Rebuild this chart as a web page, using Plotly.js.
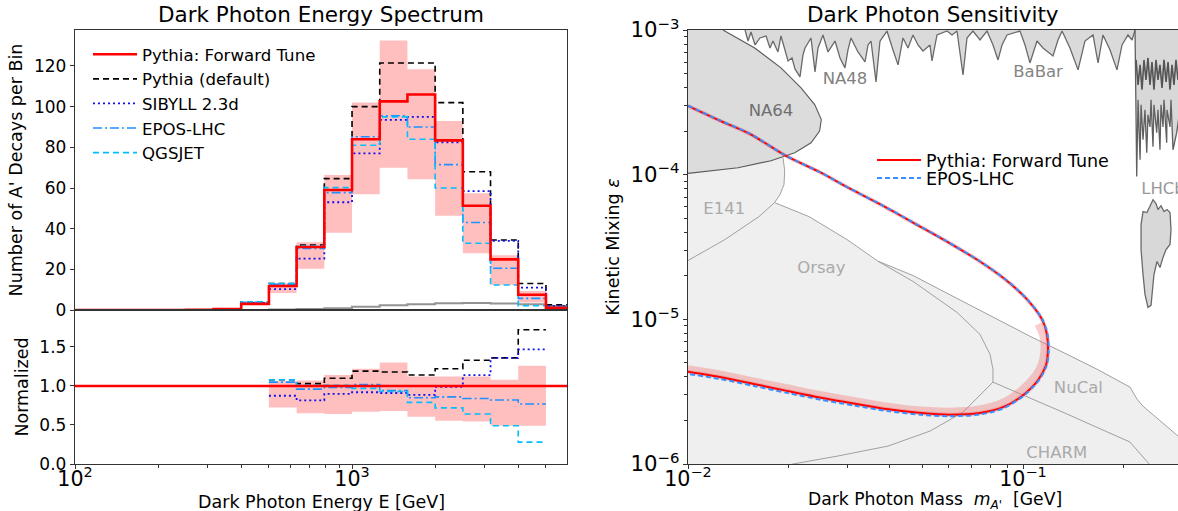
<!DOCTYPE html>
<html><head><meta charset="utf-8">
<script src="https://cdn.plot.ly/plotly-3.0.1.min.js"></script>
<style>html,body{margin:0;padding:0;background:#fff}#chart{width:1178px;height:511px}</style>
</head><body><div id="chart"></div>
<script>
// ---------- Left panel: energy spectrum (log-spaced bins, 10 per decade) ----------
const binEdges = [100, 125.9, 158.5, 199.5, 251.2, 316.2, 398.1, 501.2, 631.0, 794.3, 1000, 1258.9, 1584.9, 1995.3, 2511.9, 3162.3, 3981.1, 5011.9, 6309.6];
const forwardTune = [0, 0, 0, 0, 0.1, 0.5, 3, 11.8, 31, 59, 84, 102.6, 106, 83.4, 51.3, 24.9, 7.5, 1.1];
const pythiaDefault = [0, 0, 0, 0, 0.1, 0.6, 4, 13, 32, 64.6, 100, 121.5, 121.5, 102, 68, 34.4, 13, 2.6];
const sibyll = [0, 0, 0, 0, 0.1, 0.5, 3.5, 10.3, 25.3, 53, 77, 93.5, 95, 82.5, 58.5, 34, 11, 2];
const eposLHC = [0, 0, 0, 0, 0.1, 0.6, 3.8, 12.6, 30.3, 57.7, 85.2, 95.5, 90, 71.5, 43, 20.5, 5.7, 1.5];
const qgsjet = [0, 0, 0, 0, 0.1, 0.6, 4, 13, 31.5, 60.2, 81, 95, 84, 60, 32.8, 12.3, 2.1, 0.5];
const grayCurve = [0, 0, 0, 0, 0, 0, 0, 0.2, 0.5, 0.9, 1.6, 2.3, 2.8, 3.3, 3.4, 3.2, 2.8, 2.0];
// uncertainty band of forward tune, bins 7..16
const bandFirstBin = 7;
const bandLow = [8.3, 20.3, 38, 56.9, 70, 64.3, 46.4, 27.9, 12.3, 3.7];
const bandHigh = [13.2, 33.3, 66.4, 102, 132.5, 118.4, 93, 57.4, 26.9, 9.4];
// ratio panel, bins 7..16
const ratioFirstBin = 7;
const ratioBandLow = [0.725, 0.65, 0.64, 0.67, 0.68, 0.605, 0.555, 0.545, 0.49, 0.49];
const ratioBandHigh = [1.06, 1.07, 1.14, 1.22, 1.30, 1.12, 1.12, 1.12, 1.08, 1.26];
const ratioDefault = [1.08, 1.03, 1.10, 1.19, 1.18, 1.14, 1.22, 1.33, 1.36, 1.72];
const ratioSibyll = [0.875, 0.815, 0.90, 0.92, 0.91, 0.885, 0.99, 1.14, 1.36, 1.47];
const ratioEpos = [1.05, 0.96, 0.98, 1.02, 0.94, 0.85, 0.86, 0.84, 0.82, 0.77];
const ratioQgs = [1.08, 1.01, 1.01, 0.97, 0.93, 0.79, 0.72, 0.64, 0.49, 0.28];
const ratioForward = [1, 1];

// ---------- Right panel: sensitivity (mass GeV, epsilon) ----------
const fwdM = [0.01, 0.01246, 0.01531, 0.01962, 0.02477, 0.03046, 0.03741, 0.04694, 0.05929, 0.07437, 0.08837, 0.1028, 0.1139, 0.1179, 0.1187, 0.1171, 0.1109, 0.1, 0.08716, 0.07437, 0.06054, 0.04961, 0.03954, 0.0315, 0.02495, 0.01989, 0.01585, 0.01254, 0.01];
const fwdEps = [2.99e-4, 2.36e-4, 1.91e-4, 1.35e-4, 1.04e-4, 8.0e-5, 6.25e-5, 4.67e-5, 3.45e-5, 2.51e-5, 1.89e-5, 1.374e-5, 1.0e-5, 7.88e-6, 6.02e-6, 4.82e-6, 3.80e-6, 2.99e-6, 2.47e-6, 2.25e-6, 2.19e-6, 2.25e-6, 2.39e-6, 2.61e-6, 2.87e-6, 3.19e-6, 3.56e-6, 3.98e-6, 4.34e-6];
const eposM = [0.01, 0.01246, 0.01531, 0.01962, 0.02477, 0.03046, 0.03741, 0.04694, 0.05929, 0.07437, 0.08837, 0.1031, 0.1143, 0.1184, 0.1193, 0.1176, 0.1112, 0.1, 0.08716, 0.07437, 0.06054, 0.04961, 0.03954, 0.0315, 0.02495, 0.01989, 0.01585, 0.01254, 0.01];
const eposEps = [3.0e-4, 2.37e-4, 1.92e-4, 1.35e-4, 1.04e-4, 8.0e-5, 6.27e-5, 4.69e-5, 3.46e-5, 2.52e-5, 1.90e-5, 1.374e-5, 1.0e-5, 7.88e-6, 6.0e-6, 4.78e-6, 3.75e-6, 2.94e-6, 2.42e-6, 2.2e-6, 2.14e-6, 2.19e-6, 2.32e-6, 2.53e-6, 2.78e-6, 3.09e-6, 3.45e-6, 3.86e-6, 4.2e-6];
// centre line of the wider uncertainty band (nose and lower branch, inside the curve)
const bandInnerM = [0.1109, 0.1147, 0.1155, 0.1131, 0.1078, 0.09795, 0.08598, 0.07339, 0.06054, 0.04961, 0.03954, 0.0315, 0.02495, 0.01989, 0.01585, 0.01254, 0.01];
const bandInnerEps = [9.24e-6, 7.63e-6, 6.02e-6, 4.82e-6, 3.98e-6, 3.19e-6, 2.64e-6, 2.39e-6, 2.32e-6, 2.36e-6, 2.51e-6, 2.74e-6, 3.01e-6, 3.35e-6, 3.73e-6, 4.18e-6, 4.55e-6];

const na64M = [0.01272, 0.01582, 0.01895, 0.02175, 0.02389, 0.025, 0.02471, 0.0233, 0.02083, 0.01769, 0.0141, 0.01122, 0.01];
const na64Eps = [1e-3, 7.51e-4, 5.47e-4, 3.98e-4, 3.05e-4, 2.406e-4, 2.001e-4, 1.662e-4, 1.418e-4, 1.249e-4, 1.117e-4, 1.049e-4, 1.021e-4];
const e141M = [0.01921, 0.01944, 0.01934, 0.01882, 0.01813, 0.01629, 0.01289, 0.01];
const e141Eps = [1.31e-4, 1.066e-4, 8.53e-5, 7.28e-5, 6.41e-5, 5.13e-5, 3.56e-5, 2.55e-5];
const orsayM = [0.01813, 0.02297, 0.02983, 0.0369, 0.04694, 0.05279, 0.06353, 0.07437, 0.07969, 0.08134, 0.08134, 0.0662, 0.05279, 0.03954, 0.02804, 0.02058, 0.0185];
const orsayEps = [6.41e-5, 5.13e-5, 3.56e-5, 2.524e-5, 1.829e-5, 1.511e-5, 1.117e-5, 7.88e-6, 5.74e-6, 4.52e-6, 3.68e-6, 2.28e-6, 1.689e-6, 1.33e-6, 1.136e-6, 1.0e-6, 9.5e-7];
const nucalM = [0.0369, 0.04694, 0.05279, 0.0662, 0.08365, 0.105, 0.1316, 0.1663, 0.2086, 0.2189, 0.2281, 0.2902, 0.3375];
const nucalEps = [2.524e-5, 2.01e-5, 1.743e-5, 1.33e-5, 1.0e-5, 7.63e-6, 5.92e-6, 4.52e-6, 3.40e-6, 2.81e-6, 2.51e-6, 1.56e-6, 1.083e-6];
const charmM = [0.08134, 0.1316, 0.2086, 0.2345, 0.2427];
const charmEps = [3.68e-6, 2.28e-6, 1.418e-6, 1.048e-6, 9.5e-7];

const na48M = [0.0148, 0.01511, 0.01542, 0.01585, 0.0164, 0.0171, 0.01757, 0.01793, 0.01856, 0.01895, 0.01989, 0.02044, 0.02086, 0.02159, 0.02204, 0.02235, 0.02329, 0.02394, 0.02444, 0.02529, 0.02618, 0.02747, 0.02843, 0.02942, 0.03003, 0.03066, 0.03217, 0.03376, 0.03446, 0.03518, 0.03641, 0.03742];
const na48Eps = [1e-3, 8.39e-4, 9.69e-4, 7.88e-4, 8.81e-4, 9.09e-4, 7.51e-4, 8.39e-4, 7.05e-4, 9.09e-4, 6.11e-4, 6.41e-4, 5.38e-4, 4.74e-4, 6.72e-4, 7.51e-4, 8.81e-4, 5.13e-4, 7.51e-4, 9.24e-4, 7.05e-4, 8.39e-4, 6.41e-4, 5.47e-4, 7.28e-4, 8.81e-4, 7.05e-4, 6.01e-4, 7.88e-4, 8.39e-4, 4.38e-4, 8.39e-4];
const babarM = [0.03742, 0.03926, 0.04092, 0.04236, 0.04384, 0.04537, 0.04694, 0.04859, 0.05029, 0.05277, 0.0535, 0.05537, 0.05932, 0.0614, 0.06353, 0.06621, 0.06805, 0.07091, 0.07441, 0.07808, 0.08137, 0.08422, 0.08657, 0.08959, 0.09795, 0.1014, 0.1049, 0.1101, 0.1147, 0.1229, 0.1272, 0.1308, 0.1381, 0.146, 0.1531, 0.1618, 0.1675, 0.1733, 0.1819, 0.1908, 0.1975, 0.2058, 0.2116, 0.216];
const babarEps = [8.39e-4, 9.84e-4, 7.28e-4, 5.74e-4, 8.81e-4, 7.51e-4, 9.24e-4, 7.88e-4, 7.16e-4, 7.88e-4, 6.11e-4, 9.24e-4, 9.84e-4, 9.24e-4, 9.84e-4, 4.89e-4, 8.81e-4, 9.84e-4, 8.53e-4, 9.84e-4, 7.88e-4, 6.21e-4, 7.88e-4, 9.24e-4, 9.84e-4, 7.88e-4, 5.92e-4, 8.39e-4, 7.51e-4, 6.62e-4, 8.53e-4, 9.84e-4, 7.51e-4, 5.30e-4, 8.39e-4, 9.24e-4, 5.92e-4, 9.24e-4, 7.28e-4, 5.30e-4, 7.88e-4, 9.24e-4, 8.53e-4, 1e-3];
const lhcbM = [0.216, 0.2185, 0.2205, 0.2236, 0.2251, 0.2282, 0.2313, 0.2341, 0.2361, 0.2394, 0.2411, 0.2444, 0.246, 0.2507, 0.2529, 0.2564, 0.2582, 0.2618, 0.2636, 0.2685, 0.2691, 0.2747, 0.2766, 0.2804, 0.2876, 0.2942, 0.3044];
const lhcbEps = [1e-3, 9.73e-5, 3.3e-4, 1.269e-4, 3.04e-4, 1.743e-4, 2.81e-4, 1.418e-4, 2.59e-4, 2.14e-4, 3.29e-4, 1.56e-4, 3.04e-4, 1.95e-4, 2.81e-4, 1.487e-4, 3.04e-4, 2.14e-4, 3.29e-4, 1.662e-4, 2.81e-4, 2.14e-4, 3.29e-4, 1.487e-4, 1.95e-4, 2.81e-4, 2.39e-4];
const lhcbInnerM = [0.2175, 0.2205, 0.2236, 0.2266, 0.2297, 0.2329, 0.2361, 0.2394, 0.2427, 0.246, 0.2495, 0.2529, 0.2564, 0.26, 0.2636, 0.2673, 0.271, 0.2747, 0.2785, 0.2823, 0.2862, 0.2902];
const lhcbInnerEps = [6.21e-4, 4.17e-4, 5.74e-4, 3.86e-4, 6.21e-4, 4.52e-4, 6.41e-4, 4.17e-4, 6.01e-4, 3.86e-4, 6.21e-4, 4.52e-4, 5.74e-4, 3.98e-4, 6.21e-4, 4.38e-4, 6.01e-4, 3.86e-4, 5.74e-4, 4.17e-4, 6.21e-4, 4.52e-4];
const lhcbLowM = [0.2251, 0.2282, 0.2345, 0.2394, 0.2444, 0.2495, 0.2529, 0.2582, 0.2636, 0.2691, 0.2747, 0.2766, 0.2747, 0.2673, 0.2618, 0.2564, 0.2512, 0.246, 0.2411, 0.2361, 0.2313, 0.2282, 0.2251, 0.2251];
const lhcbLowEps = [4.52e-5, 5.56e-5, 5.47e-5, 6.11e-5, 6.72e-5, 6.31e-5, 5.74e-5, 6.11e-5, 5.56e-5, 5.74e-5, 5.47e-5, 4.17e-5, 3.29e-5, 3.04e-5, 2.68e-5, 2.28e-5, 2.51e-5, 2.04e-5, 1.249e-5, 1.21e-5, 1.487e-5, 2.04e-5, 3.04e-5, 4.52e-5];

const regionNames = ['NA64', 'NA48', 'BaBar', 'E141', 'Orsay', 'NuCal', 'CHARM', 'LHCb'];
const regionLabelM = [0.01769, 0.02942, 0.1109, 0.01283, 0.025, 0.1463, 0.1261, 0.2618];
const regionLabelEps = [2.72e-4, 4.54e-4, 5.05e-4, 5.67e-5, 2.24e-5, 3.33e-6, 1.17e-6, 7.88e-5];
const regionLabelColor = ['#6f6f6f', '#808080', '#858585', '#aaaaaa', '#aaaaaa', '#aaaaaa', '#aaaaaa', '#999999'];

// ---------- helpers ----------
function stepXY(vals, firstBin) {
  return { x: binEdges.slice(firstBin, firstBin + vals.length + 1), y: vals.concat([vals[vals.length - 1]]) };
}
const F = 'DejaVu Sans, sans-serif';
const traces = [];
function histLine(vals, firstBin, ax, ay, opts) {
  const s = stepXY(vals, firstBin);
  return Object.assign({ type: 'scatter', mode: 'lines', x: s.x, y: s.y, xaxis: ax, yaxis: ay, line: { shape: 'hv' } }, opts);
}
// top band
traces.push(histLine(bandLow, bandFirstBin, 'x', 'y', { line: { shape: 'hv', width: 0 }, showlegend: false, hoverinfo: 'skip' }));
traces.push(histLine(bandHigh, bandFirstBin, 'x', 'y', { line: { shape: 'hv', width: 0 }, fill: 'tonexty', fillcolor: 'rgba(255,0,0,0.25)', showlegend: false, hoverinfo: 'skip' }));
traces.push(histLine(grayCurve, 0, 'x', 'y', { line: { shape: 'hv', width: 2, color: 'rgba(128,128,128,0.85)' }, showlegend: false }));
traces.push(histLine(pythiaDefault, 0, 'x', 'y', { name: 'Pythia (default)', legendrank: 2, line: { shape: 'hv', width: 1.6, color: '#000', dash: '6px,4px' } }));
traces.push(histLine(sibyll, 0, 'x', 'y', { name: 'SIBYLL 2.3d', legendrank: 3, line: { shape: 'hv', width: 1.8, color: '#1010ee', dash: '2px,3px' } }));
traces.push(histLine(eposLHC, 0, 'x', 'y', { name: 'EPOS-LHC', legendrank: 4, line: { shape: 'hv', width: 1.6, color: '#1e90ff', dash: '9px,3px,2px,3px' } }));
traces.push(histLine(qgsjet, 0, 'x', 'y', { name: 'QGSJET', legendrank: 5, line: { shape: 'hv', width: 1.6, color: '#00bfff', dash: '6px,4px' } }));
traces.push(histLine(forwardTune, 0, 'x', 'y', { name: 'Pythia: Forward Tune', legendrank: 1, line: { shape: 'hv', width: 2.6, color: '#ff0000' } }));
// ratio panel
traces.push(histLine(ratioBandLow, ratioFirstBin, 'x2', 'y2', { line: { shape: 'hv', width: 0 }, showlegend: false }));
traces.push(histLine(ratioBandHigh, ratioFirstBin, 'x2', 'y2', { line: { shape: 'hv', width: 0 }, fill: 'tonexty', fillcolor: 'rgba(255,0,0,0.25)', showlegend: false }));
traces.push(histLine(ratioDefault, ratioFirstBin, 'x2', 'y2', { showlegend: false, line: { shape: 'hv', width: 1.6, color: '#000', dash: '6px,4px' } }));
traces.push(histLine(ratioSibyll, ratioFirstBin, 'x2', 'y2', { showlegend: false, line: { shape: 'hv', width: 1.8, color: '#1010ee', dash: '2px,3px' } }));
traces.push(histLine(ratioEpos, ratioFirstBin, 'x2', 'y2', { showlegend: false, line: { shape: 'hv', width: 1.6, color: '#1e90ff', dash: '9px,3px,2px,3px' } }));
traces.push(histLine(ratioQgs, ratioFirstBin, 'x2', 'y2', { showlegend: false, line: { shape: 'hv', width: 1.6, color: '#00bfff', dash: '6px,4px' } }));
traces.push({ type: 'scatter', mode: 'lines', x: [binEdges[0], binEdges[binEdges.length - 1]], y: ratioForward, xaxis: 'x2', yaxis: 'y2', showlegend: false, line: { width: 2.6, color: '#ff0000' } });

// right panel regions
const R = { xaxis: 'x3', yaxis: 'y3', type: 'scatter', showlegend: false, hoverinfo: 'skip' };
function poly(xs, ys, fillcolor) { return Object.assign({}, R, { mode: 'lines', x: xs, y: ys, fill: 'toself', fillcolor: fillcolor, line: { width: 0 } }); }
function outline(xs, ys, color, w) { return Object.assign({}, R, { mode: 'lines', x: xs, y: ys, line: { color: color, width: w } }); }
const lightX = [0.009].concat(e141M.slice(0, 5), orsayM.slice(1, 4), nucalM, [0.35, 0.35, 0.009]);
const lightY = [1.0e-4].concat(e141Eps.slice(0, 5), orsayEps.slice(1, 4), nucalEps, [8e-7, 8e-7, 8e-7]);
traces.push(poly(lightX, lightY, '#efefef'));
traces.push(outline(e141M, e141Eps, '#a0a0a0', 1));
traces.push(outline(orsayM, orsayEps, '#a0a0a0', 1));
traces.push(outline(nucalM, nucalEps, '#a0a0a0', 1));
traces.push(outline(charmM, charmEps, '#a0a0a0', 1));
traces.push(poly(na64M.concat([0.009, 0.009, 0.01272]), na64Eps.concat([1.021e-4, 1.2e-3, 1.2e-3]), '#dcdcdc'));
traces.push(outline(na64M, na64Eps, '#5a5a5a', 1.1));
traces.push(poly(na48M.concat(babarM.slice(1), [0.216, 0.0148]), na48Eps.concat(babarEps.slice(1), [1.2e-3, 1.2e-3]), '#dadada'));
traces.push(outline(na48M, na48Eps, '#6a6a6a', 1.3));
traces.push(outline(babarM, babarEps, '#6a6a6a', 1.3));
traces.push(poly(lhcbM.concat([0.31, 0.31]), lhcbEps.concat([2.39e-4, 1.2e-3]), '#d8d8d8'));
traces.push(outline(lhcbM, lhcbEps, '#606060', 1.3));
traces.push(outline(lhcbInnerM, lhcbInnerEps, '#555555', 1.6));
traces.push(Object.assign(poly(lhcbLowM, lhcbLowEps, '#d8d8d8'), { line: { width: 1.3, color: '#6a6a6a' } }));
// sensitivity band + curves
traces.push(Object.assign({}, R, { mode: 'lines', x: fwdM, y: fwdEps, line: { color: 'rgba(240,110,110,0.35)', width: 4, shape: 'spline', smoothing: 0.8 } }));
traces.push(Object.assign({}, R, { mode: 'lines', x: bandInnerM, y: bandInnerEps, line: { color: 'rgba(240,110,110,0.35)', width: 7, shape: 'spline', smoothing: 0.8 } }));
traces.push(Object.assign({}, R, { mode: 'lines', x: fwdM, y: fwdEps, name: 'Pythia: Forward Tune', showlegend: true, legend: 'legend2', line: { color: '#ff0000', width: 2, shape: 'spline', smoothing: 0.8 } }));
traces.push(Object.assign({}, R, { mode: 'lines', x: eposM, y: eposEps, name: 'EPOS-LHC', showlegend: true, legend: 'legend3', line: { color: '#3a8fff', width: 2, dash: '5px,3px', shape: 'spline', smoothing: 0.8 } }));
traces.push(Object.assign({}, R, { mode: 'text', x: regionLabelM, y: regionLabelEps, text: regionNames, textfont: { family: F, size: 16.5, color: regionLabelColor }, textposition: 'middle center' }));

const tickF = { family: F, size: 17, color: '#000' };
const xTickF = { family: F, size: 16.5, color: '#000' };
const titleF = { family: F, size: 17.5, color: '#000' };
const axLine = { showline: true, linecolor: '#333', linewidth: 1.2, zeroline: false, showgrid: false, tickcolor: '#333', tickfont: tickF };
const legendBase = { xanchor: 'left', yanchor: 'top', bgcolor: 'rgba(0,0,0,0)', tracegroupgap: 0, itemwidth: 44, traceorder: 'normal' };
const layout = {
  width: 1178, height: 511, margin: { l: 0, r: 0, t: 0, b: 0 }, paper_bgcolor: '#fff', plot_bgcolor: 'rgba(0,0,0,0)',
  font: { family: F, color: '#000' },
  xaxis: Object.assign({}, axLine, { type: 'log', range: [2, 3.776], domain: [75 / 1178, 567 / 1178], anchor: 'y', mirror: true, ticks: '', showticklabels: false }),
  yaxis: Object.assign({}, axLine, { range: [0, 137.7], domain: [1 - 310 / 511, 1 - 30 / 511], anchor: 'x', mirror: true, ticks: 'outside', ticklen: 4, dtick: 20,
    title: { text: "Number of A' Decays per Bin", font: titleF, standoff: 6 } }),
  xaxis2: Object.assign({}, axLine, { type: 'log', range: [2, 3.776], domain: [75 / 1178, 567 / 1178], anchor: 'y2', mirror: true, ticks: 'outside', ticklen: 4, dtick: 1, exponentformat: 'power', ticklabelstandoff: -7, tickfont: xTickF,
    minor: { ticks: 'outside', ticklen: 2.5, dtick: 'D1', tickcolor: '#333' } }),
  yaxis2: Object.assign({}, axLine, { range: [0, 1.974], domain: [1 - 464 / 511, 1 - 310 / 511], anchor: 'x2', mirror: true, ticks: 'outside', ticklen: 4, dtick: 0.5, tickformat: '.1f',
    title: { text: 'Normalized', font: titleF, standoff: 6 } }),
  xaxis3: Object.assign({}, axLine, { type: 'log', range: [-2, -0.5373], domain: [688 / 1178, 1], anchor: 'y3', mirror: true, ticks: 'outside', ticklen: 4, dtick: 1, exponentformat: 'power', ticklabelstandoff: -7, tickfont: xTickF,
    minor: { ticks: 'outside', ticklen: 2.5, dtick: 'D1', tickcolor: '#333' } }),
  yaxis3: Object.assign({}, axLine, { type: 'log', range: [-6, -3], domain: [1 - 464 / 511, 1 - 30 / 511], anchor: 'x3', mirror: false, ticks: 'outside', ticklen: 4, dtick: 1, exponentformat: 'power',
    minor: { ticks: 'outside', ticklen: 2.5, dtick: 'D1', tickcolor: '#333' },
    title: { text: 'Kinetic Mixing <i>ε</i>', font: titleF, standoff: 6 } }),
  legend: Object.assign({}, legendBase, { x: 88 / 1178, y: 1 - 37 / 511, font: { family: F, size: 16.6 } }),
  legend2: Object.assign({}, legendBase, { x: 872 / 1178, y: 1 - 142 / 511, font: { family: F, size: 17.5 } }),
  legend3: Object.assign({}, legendBase, { x: 872 / 1178, y: 1 - 160 / 511, font: { family: F, size: 17.5 } }),
  annotations: [
    { text: 'Dark Photon Energy Spectrum', xref: 'paper', yref: 'paper', x: 321 / 1178, y: 1 - 14 / 511, xanchor: 'center', yanchor: 'middle', showarrow: false, font: { family: F, size: 21.5 } },
    { text: 'Dark Photon Sensitivity', xref: 'paper', yref: 'paper', x: 933 / 1178, y: 1 - 14 / 511, xanchor: 'center', yanchor: 'middle', showarrow: false, font: { family: F, size: 21.5 } },
    { text: 'Dark Photon Energy E [GeV]', xref: 'paper', yref: 'paper', x: 321 / 1178, y: 1 - 502 / 511, xanchor: 'center', yanchor: 'middle', showarrow: false, font: titleF },
    { text: "Dark Photon Mass  <i>m</i><sub><i>A'</i></sub>  [GeV]", xref: 'paper', yref: 'paper', x: 935 / 1178, y: 1 - 500 / 511, xanchor: 'center', yanchor: 'middle', showarrow: false, font: { family: F, size: 17.2, color: '#000' } }
  ]
};
Plotly.newPlot('chart', traces, layout, { staticPlot: true, displayModeBar: false });
</script></body></html>
